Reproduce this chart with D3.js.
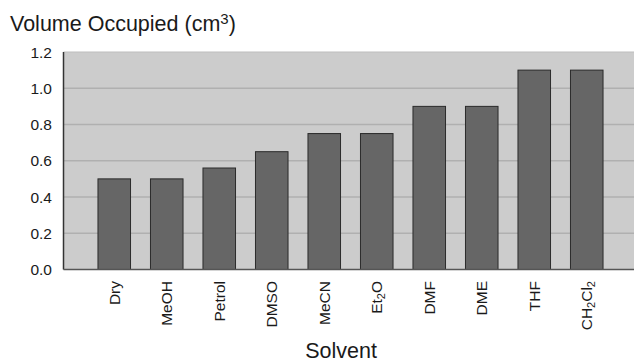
<!DOCTYPE html>
<html><head><meta charset="utf-8">
<script src="https://cdn.jsdelivr.net/npm/d3@7"></script>
<style>body{margin:0;background:#fff;} svg{display:block;font-family:"Liberation Sans",Arial,sans-serif;}</style>
</head><body>
<svg id="c" width="636" height="362"></svg>
<script>
const categories = ["Dry","MeOH","Petrol","DMSO","MeCN","Et2O","DMF","DME","THF","CH2Cl2"];
// label parts: [text, isSubscript]
const labelParts = [
  [["Dry",0]],[["MeOH",0]],[["Petrol",0]],[["DMSO",0]],[["MeCN",0]],
  [["Et",0],["2",1],["O",0]],[["DMF",0]],[["DME",0]],[["THF",0]],
  [["CH",0],["2",1],["Cl",0],["2",1]]
];
const values = [0.5, 0.5, 0.56, 0.65, 0.75, 0.75, 0.9, 0.9, 1.1, 1.1];
const yTicks = [0, 0.2, 0.4, 0.6, 0.8, 1.0, 1.2];
const yTitle = "Volume Occupied (cm";
const xTitle = "Solvent";

const svg = d3.select("#c");
const plot = {l: 63.5, r: 634, t: 52, b: 269.5};
const y = d3.scaleLinear().domain([0, 1.2]).range([plot.b, plot.t]);
const x = d3.scaleBand().domain(categories).range([88, 613]).paddingInner(0.38).paddingOuter(0.19);

svg.append("rect").attr("x", plot.l).attr("y", plot.t).attr("width", plot.r - plot.l).attr("height", plot.b - plot.t).attr("fill", "#cccccc");

// gridlines
svg.append("g").selectAll("line").data(yTicks.filter(d => d > 0 && d < 1.2)).join("line")
  .attr("x1", plot.l).attr("x2", plot.r).attr("y1", d => y(d)).attr("y2", d => y(d))
  .attr("stroke", "#b0b0b0").attr("stroke-width", 1.5);
svg.append("line").attr("x1", plot.l).attr("x2", plot.r).attr("y1", plot.t).attr("y2", plot.t).attr("stroke", "#bdbdbd").attr("stroke-width", 1);

// bars
svg.append("g").selectAll("rect").data(values).join("rect")
  .attr("x", (d, i) => x(categories[i])).attr("width", x.bandwidth())
  .attr("y", d => y(d)).attr("height", d => y(0) - y(d))
  .attr("fill", "#666666").attr("stroke", "#2a2a2a").attr("stroke-width", 1);

// axes lines
svg.append("line").attr("x1", plot.l).attr("x2", plot.l).attr("y1", plot.t).attr("y2", plot.b).attr("stroke", "#333").attr("stroke-width", 1.5);
svg.append("line").attr("x1", plot.l).attr("x2", plot.r).attr("y1", plot.b).attr("y2", plot.b).attr("stroke", "#555").attr("stroke-width", 1.5);

// y tick labels
svg.append("g").selectAll("text").data(yTicks).join("text")
  .attr("x", 52).attr("y", d => y(d)).attr("dy", "0.36em")
  .attr("text-anchor", "end").attr("font-size", 15.5).attr("fill", "#1a1a1a")
  .text(d => d3.format(".1f")(d));

// x category labels
const xl = svg.append("g").selectAll("text").data(categories).join("text")
  .attr("transform", d => `translate(${x(d) + x.bandwidth() / 2},281) rotate(-90)`)
  .attr("dy", "0.36em").attr("text-anchor", "end").attr("font-size", 15.5).attr("fill", "#1a1a1a");
xl.each(function(d, i) {
  const t = d3.select(this);
  labelParts[i].forEach(([s, sub]) => {
    const ts = t.append("tspan").text(s);
    if (sub) ts.attr("font-size", 11).attr("baseline-shift", "-25%");
  });
});

// titles
const tt = svg.append("text").attr("x", 10).attr("y", 31).attr("font-size", 21.5).attr("fill", "#1a1a1a");
tt.append("tspan").text(yTitle);
tt.append("tspan").attr("font-size", 15).attr("baseline-shift", "45%").text("3");
tt.append("tspan").text(")");

svg.append("text").attr("x", 341).attr("y", 358).attr("text-anchor", "middle").attr("font-size", 21.5).attr("fill", "#1a1a1a").text(xTitle);
</script>
</body></html>
